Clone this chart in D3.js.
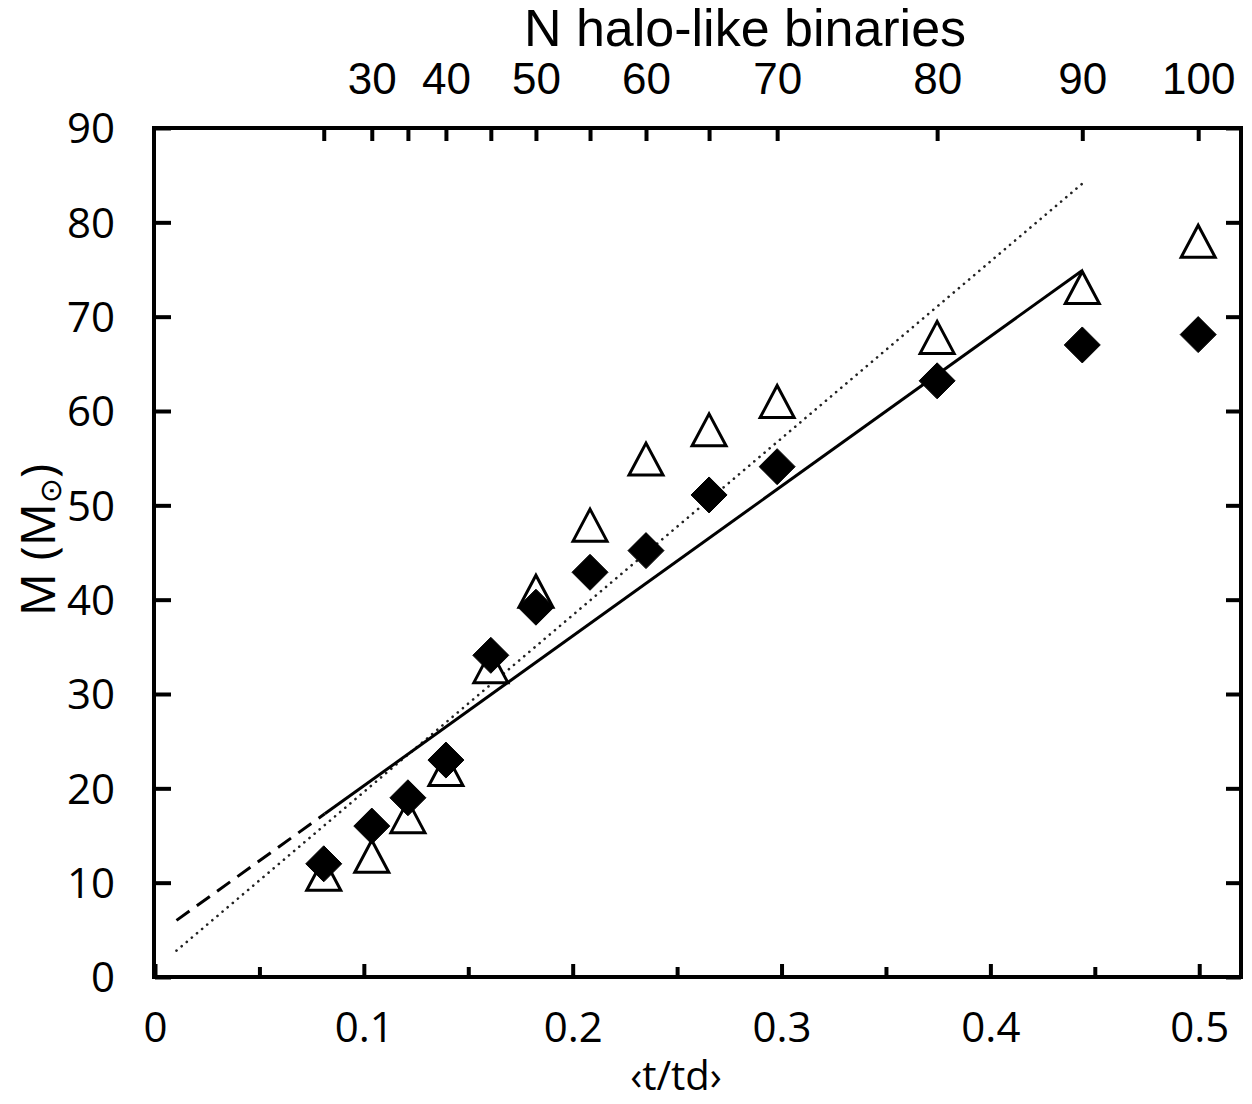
<!DOCTYPE html>
<html>
<head>
<meta charset="utf-8">
<script src="https://cdn.jsdelivr.net/npm/d3@7"></script>
<style>
  html, body { margin: 0; padding: 0; background: #fff; }
  svg { display: block; }
</style>
</head>
<body>
<svg id="chart" width="1252" height="1104"></svg>
<script>
// ---- data ----
const tOverTd = [0.0808, 0.1038, 0.1211, 0.1393, 0.1608, 0.1824, 0.2083, 0.2351, 0.2653, 0.2979, 0.3745, 0.4440, 0.4995];
const nHalo   = [25, 30, 35, 40, 45, 50, 55, 60, 65, 70, 80, 90, 100];
const massTriangle = [10.9, 12.8, 17.0, 22.0, 32.9, 40.9, 47.9, 54.9, 58.0, 61.0, 67.8, 73.1, 78.0];
const massDiamond  = [12.0, 16.0, 19.0, 23.0, 34.1, 39.2, 42.9, 45.2, 51.1, 54.1, 63.2, 67.0, 68.1];
const fitSolid  = [[0.0813, 17.3], [0.444, 74.9]];
const fitDashed = [[0.0103, 6.0], [0.0813, 17.3]];
const fitDotted = [[0.0103, 2.8], [0.444, 84.1]];
const xMajorTicks = [0, 0.1, 0.2, 0.3, 0.4, 0.5];
const xMinorTicks = [0.05, 0.15, 0.25, 0.35, 0.45];
const yTicks = [0, 10, 20, 30, 40, 50, 60, 70, 80, 90];

// ---- layout ----
const svg = d3.select("#chart");
const L = 155, R = 1241, T = 128, B = 977;
const x = d3.scaleLinear().domain([0, 0.52]).range([L, R]);
const y = d3.scaleLinear().domain([0, 90]).range([B, T]);

const tickFont = "'Open Sans', 'DejaVu Sans', sans-serif";
const arialFont = "'Liberation Sans', Arial, sans-serif";

// bottom axis (major + minor ticks inward)
const gB = svg.append("g").attr("transform", `translate(0,${B})`)
  .call(d3.axisBottom(x).tickValues(xMajorTicks).tickSize(-13).tickFormat(d3.format("")));
gB.select(".domain").remove();
gB.selectAll("line").attr("stroke", "#000").attr("stroke-width", 4);
gB.selectAll("text").attr("y", 65).attr("dy", null)
  .style("font-family", tickFont).style("font-size", "42px").attr("fill", "#000");
const gBm = svg.append("g").attr("transform", `translate(0,${B})`)
  .call(d3.axisBottom(x).tickValues(xMinorTicks).tickSize(-10).tickFormat(""));
gBm.select(".domain").remove();
gBm.selectAll("line").attr("stroke", "#000").attr("stroke-width", 4);

// left axis
const gL = svg.append("g").attr("transform", `translate(${L},0)`)
  .call(d3.axisLeft(y).tickValues(yTicks).tickSize(-16));
gL.select(".domain").remove();
gL.selectAll("line").attr("stroke", "#000").attr("stroke-width", 4);
gL.selectAll("text").attr("x", -40).attr("dy", "0.35em")
  .style("font-family", tickFont).style("font-size", "42px").attr("fill", "#000");

// right axis (ticks only)
const gR = svg.append("g").attr("transform", `translate(${R},0)`)
  .call(d3.axisRight(y).tickValues(yTicks).tickSize(-15).tickFormat(""));
gR.select(".domain").remove();
gR.selectAll("line").attr("stroke", "#000").attr("stroke-width", 4);

// top axis: N halo-like binaries at each data point
const gT = svg.append("g").attr("transform", `translate(0,${T})`)
  .call(d3.axisTop(x).tickValues(tOverTd).tickSize(-13)
    .tickFormat((d, i) => nHalo[i] % 10 === 0 ? nHalo[i] : ""));
gT.select(".domain").remove();
gT.selectAll("line").attr("stroke", "#000").attr("stroke-width", 4);
gT.selectAll("text").attr("y", -34).attr("dy", null)
  .style("font-family", arialFont).style("font-size", "44px").attr("fill", "#000");

// frame
svg.append("rect").attr("x", x(0) - 1).attr("y", y(90)).attr("width", x(0.52) - x(0) + 1).attr("height", y(0) - y(90))
  .attr("fill", "none").attr("stroke", "#000").attr("stroke-width", 4);

// fit lines
const line = d3.line().x(d => x(d[0])).y(d => y(d[1]));
svg.append("path").attr("d", line(fitDotted)).attr("fill", "none").attr("stroke", "#222")
  .attr("stroke-width", 2.6).attr("stroke-dasharray", "0.1 6.6").attr("stroke-linecap", "round");
svg.append("path").attr("d", line(fitDashed)).attr("fill", "none").attr("stroke", "#000")
  .attr("stroke-width", 3).attr("stroke-dasharray", "16 9");
svg.append("path").attr("d", line(fitSolid)).attr("fill", "none").attr("stroke", "#000")
  .attr("stroke-width", 3);

// triangles (open)
const triPath = "M0,-16 L17,16 L-17,16 Z";
svg.append("g").selectAll("path").data(tOverTd).join("path")
  .attr("d", triPath)
  .attr("transform", (d, i) => `translate(${x(d)},${y(massTriangle[i])})`)
  .attr("fill", "#fff").attr("stroke", "#000").attr("stroke-width", 3).attr("stroke-linejoin", "miter");

// diamonds (filled)
const diaPath = "M0,-18 L18,0 L0,18 L-18,0 Z";
svg.append("g").selectAll("path").data(tOverTd).join("path")
  .attr("d", diaPath)
  .attr("transform", (d, i) => `translate(${x(d)},${y(massDiamond[i])})`)
  .attr("fill", "#000").attr("stroke", "#000").attr("stroke-width", 1);

// titles
svg.append("text").attr("x", 745).attr("y", 46).attr("text-anchor", "middle")
  .style("font-family", arialFont).style("font-size", "52px").text("N halo-like binaries");
svg.append("text").attr("x", 676).attr("y", 1090).attr("text-anchor", "middle")
  .style("font-family", tickFont).style("font-size", "40px").text("‹t/td›");
const yl = svg.append("text").attr("transform", "translate(55,540) rotate(-90)").attr("text-anchor", "middle")
  .style("font-family", tickFont).style("font-size", "48px");
yl.append("tspan").text("M (M");
yl.append("tspan").attr("dy", "6").style("font-size", "30px").text("⊙");
yl.append("tspan").attr("dy", "-6").text(")");
</script>
</body>
</html>
